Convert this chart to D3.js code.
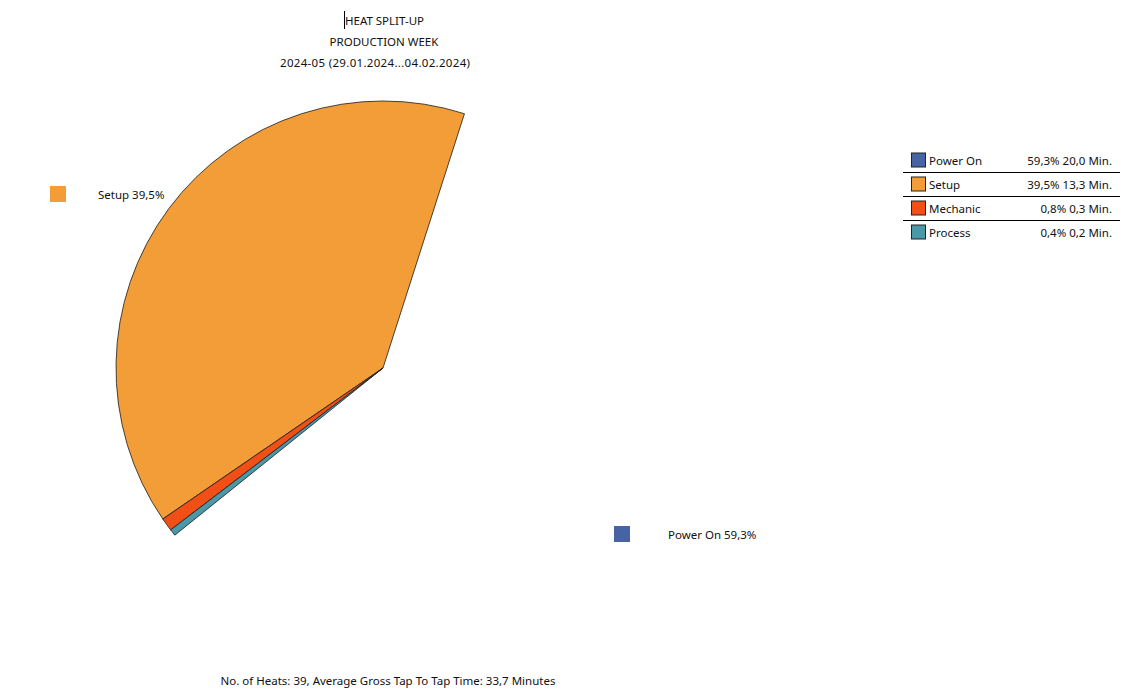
<!DOCTYPE html>
<html><head><meta charset="utf-8">
<script src="https://cdn.jsdelivr.net/npm/d3@7"></script>
<style>body{margin:0;background:#fff}svg{display:block}text{font-family:"Noto Sans",sans-serif;fill:#111}</style>
</head><body>
<svg id="c" width="1131" height="697"></svg>
<script>
const categories = ["Power On","Setup","Mechanic","Process"];
const percents = [59.3, 39.5, 0.8, 0.4];
const minutes = [20.0, 13.3, 0.3, 0.2];
const colors = ["#4664a4","#f29d38","#f24f16","#4a98a8"];
const drawnSlice = [false, true, true, true];
const titleLines = ["HEAT SPLIT-UP","PRODUCTION WEEK","2024-05 (29.01.2024...04.02.2024)"];
const footer = "No. of Heats: 39, Average Gross Tap To Tap Time: 33,7 Minutes";
const fmt = v => v.toFixed(1).replace(".", ",");

const svg = d3.select("#c");
const fs = 11.5;
const cx = 383, cy = 368, R = 267;
const deg = Math.PI/180;
const a0 = 231.24*deg;

// title
const titleX = [384.5, 384, 375];
const titleW = [null, null, 190];
titleLines.forEach((t,i)=>{
  const tx = svg.append("text").attr("x",titleX[i]).attr("y",25+i*21).attr("text-anchor","middle")
    .attr("font-size",fs).text(t);
  if(titleW[i]) tx.attr("textLength",titleW[i]).attr("lengthAdjust","spacing");
});
svg.append("line").attr("x1",344.5).attr("x2",344.5).attr("y1",11).attr("y2",29).attr("stroke","#000").attr("stroke-width",1);

const data = categories.map((c,i)=>({c, p:percents[i], m:minutes[i], col:colors[i], draw:drawnSlice[i]}));
const pie = d3.pie().sort(null).value(d=>d.p).startAngle(a0).endAngle(a0-2*Math.PI);
const arc = d3.arc().innerRadius(0).outerRadius(R);
const g = svg.append("g").attr("transform",`translate(${cx},${cy})`);
g.selectAll("path").data(pie(data).filter(d=>d.data.draw)).join("path")
  .attr("d",arc).attr("fill",d=>d.data.col).attr("stroke","#1a1a1a").attr("stroke-width",0.8).attr("stroke-linejoin","round");

// outside labels
const labels = [
  {i:1, sx:50, sy:186, tx:98, ty:195},
  {i:0, sx:614, sy:526, tx:668, ty:534.5}
];
labels.forEach(l=>{
  const d = data[l.i];
  svg.append("rect").attr("x",l.sx).attr("y",l.sy).attr("width",16).attr("height",16).attr("fill",d.col);
  svg.append("text").attr("x",l.tx).attr("y",l.ty).attr("dy","0.35em").attr("font-size",fs)
    .text(`${d.c} ${fmt(d.p)}%`);
});

// legend
const ly = d3.scaleBand().domain(categories).range([148,244]);
const lg = svg.append("g");
data.forEach((d,i)=>{
  const y = ly(d.c) + ly.bandwidth()/2;
  lg.append("rect").attr("x",911.5).attr("y",y-7).attr("width",14).attr("height",14)
    .attr("fill",d.col).attr("stroke","#222").attr("stroke-width",1);
  lg.append("text").attr("x",929).attr("y",y+1).attr("dy","0.35em").attr("font-size",fs).text(d.c);
  lg.append("text").attr("x",1112).attr("y",y+1).attr("dy","0.35em").attr("font-size",fs)
    .attr("text-anchor","end").text(`${fmt(d.p)}% ${fmt(d.m)} Min.`);
  if(i<data.length-1){
    lg.append("line").attr("x1",903).attr("x2",1120).attr("y1",ly(d.c)+ly.bandwidth()+0.5).attr("y2",ly(d.c)+ly.bandwidth()+0.5).attr("stroke","#000").attr("stroke-width",1);
  }
});

svg.append("text").attr("x",388).attr("y",680.5).attr("dy","0.35em").attr("text-anchor","middle")
  .attr("font-size",fs).text(footer);
</script>
</body></html>
